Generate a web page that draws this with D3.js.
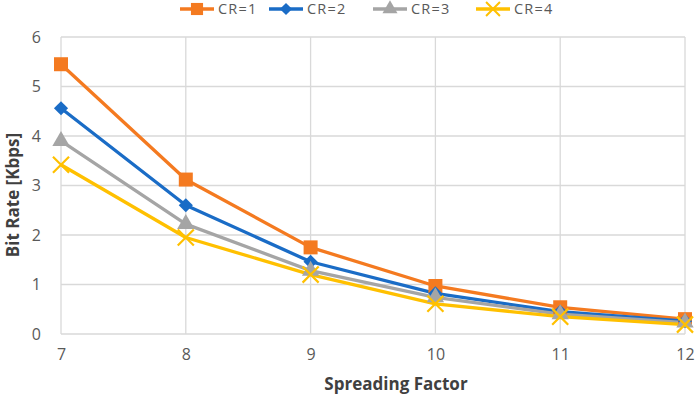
<!DOCTYPE html>
<html><head><meta charset="utf-8">
<script src="https://cdn.jsdelivr.net/npm/d3@7"></script>
<style>body{margin:0;background:#fff}svg{display:block}</style>
</head><body>
<svg id="c" width="699" height="395"></svg>
<script>
const spreadingFactors = [7, 8, 9, 10, 11, 12];
const cr1 = [5.45, 3.12, 1.75, 0.97, 0.54, 0.30];
const cr2 = [4.56, 2.60, 1.46, 0.82, 0.45, 0.26];
const cr3 = [3.90, 2.22, 1.28, 0.74, 0.40, 0.23];
const cr4 = [3.42, 1.95, 1.20, 0.61, 0.35, 0.19];
const seriesNames = ["CR=1", "CR=2", "CR=3", "CR=4"];
const yTicks = [0, 1, 2, 3, 4, 5, 6];
const colors = ["#F47A20", "#1A6CC6", "#A5A5A5", "#FFC000"];

const diamond = { draw(ctx, size) { const r = Math.sqrt(size / 2); ctx.moveTo(0, -r); ctx.lineTo(r, 0); ctx.lineTo(0, r); ctx.lineTo(-r, 0); ctx.closePath(); } };
const symbols = [d3.symbolSquare, diamond, d3.symbolTriangle, d3.symbolX];
const symSizes = [196, 100, 130, 170];
const allSeries = [cr1, cr2, cr3, cr4];

const svg = d3.select("#c");
const font = "'Open Sans', 'Liberation Sans', sans-serif";
const x = d3.scaleLinear().domain([7, 12]).range([61, 685]);
const y = d3.scaleLinear().domain([0, 6]).range([334, 37]);

// grid
const g = svg.append("g");
g.selectAll(".hg").data(yTicks).join("line")
  .attr("x1", x(7)).attr("x2", x(12)).attr("y1", d => y(d)).attr("y2", d => y(d))
  .attr("stroke", "#d9d9d9").attr("stroke-width", 1.3);
g.selectAll(".vg").data(spreadingFactors).join("line")
  .attr("x1", d => x(d)).attr("x2", d => x(d)).attr("y1", y(0)).attr("y2", y(6))
  .attr("stroke", "#d9d9d9").attr("stroke-width", 1.3);

// axes
const xAxis = svg.append("g").attr("transform", `translate(0,${y(0)})`)
  .call(d3.axisBottom(x).tickValues(spreadingFactors).tickSize(0).tickPadding(15).tickFormat(d3.format("d")));
const yAxis = svg.append("g").attr("transform", `translate(${x(7)},0)`)
  .call(d3.axisLeft(y).tickValues(yTicks).tickSize(0).tickPadding(20).tickFormat(d3.format("d")));
[xAxis, yAxis].forEach(a => {
  a.select(".domain").remove();
  a.selectAll("text").attr("fill", "#595959").style("font-family", font).style("font-size", "16px");
});

// lines
const line = d3.line().x((d, i) => x(spreadingFactors[i])).y(d => y(d));
allSeries.forEach((s, k) => {
  svg.append("path").datum(s).attr("d", line).attr("fill", "none")
    .attr("stroke", colors[k]).attr("stroke-width", 3.3).attr("stroke-linejoin", "round");
});
allSeries.forEach((s, k) => {
  svg.append("g").selectAll("path").data(s).join("path")
    .attr("transform", (d, i) => `translate(${x(spreadingFactors[i])},${y(d)})`)
    .attr("d", d3.symbol().type(symbols[k]).size(symSizes[k]))
    .attr("fill", k === 3 ? "none" : colors[k])
    .attr("stroke", colors[k]).attr("stroke-width", k === 3 ? 2.2 : 0);
});

// axis titles
svg.append("text").attr("x", 396).attr("y", 390).attr("text-anchor", "middle")
  .style("font-family", font).style("font-size", "17px").style("font-weight", "bold")
  .attr("fill", "#404040").text("Spreading Factor");
svg.append("text").attr("transform", "translate(19,195) rotate(-90)").attr("text-anchor", "middle")
  .style("font-family", font).style("font-size", "17px").style("font-weight", "bold")
  .attr("fill", "#404040").text("Bit Rate [Kbps]");

// legend
const legX = [180, 269, 373, 476];
seriesNames.forEach((n, k) => {
  const lg = svg.append("g").attr("transform", `translate(${legX[k]},9)`);
  lg.append("line").attr("x1", 0).attr("x2", 34).attr("stroke", colors[k]).attr("stroke-width", 3.3);
  lg.append("path").attr("transform", "translate(17,0)")
    .attr("d", d3.symbol().type(symbols[k]).size(symSizes[k] * 0.75))
    .attr("fill", k === 3 ? "none" : colors[k])
    .attr("stroke", colors[k]).attr("stroke-width", k === 3 ? 2 : 0);
  lg.append("text").attr("x", 38).attr("y", 5)
    .style("font-family", font).style("font-size", "14.5px").style("letter-spacing", "1.2px")
    .attr("fill", "#595959").text(n);
});
</script>
</body></html>
